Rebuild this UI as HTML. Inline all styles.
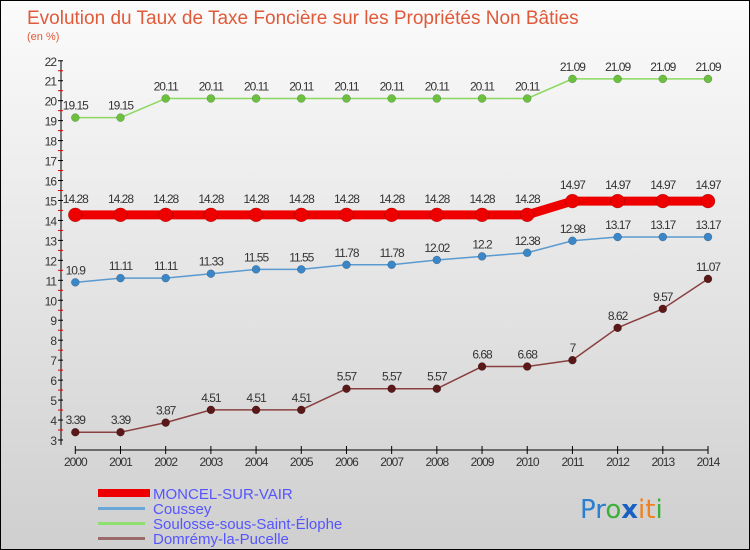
<!DOCTYPE html>
<html><head><meta charset="utf-8"><style>
body{margin:0}
#c{width:750px;height:550px;position:relative;overflow:hidden;font-family:"Liberation Sans",sans-serif;background:linear-gradient(#fbfbfb,#cfcfcf);box-sizing:border-box;border:1px solid #000}
</style></head><body>
<div id="c">
<svg id="s" width="750" height="550" style="position:absolute;left:-1px;top:-1px">
<text x="27" y="24" font-size="19" fill="#e05a3a">Evolution du Taux de Taxe Foncière sur les Propriétés Non Bâties</text>
<text x="27" y="40" font-size="11" fill="#e05a3a">(en %)</text>
<g id="ax"></g><g id="ser"></g>
<g>
<rect x="98" y="489" width="52" height="8" fill="#ee0000"/>
<text x="153" y="499" font-size="15" fill="#5555ff">MONCEL-SUR-VAIR</text>
<rect x="98" y="507" width="47" height="3" fill="#6aa6d6"/>
<text x="153" y="514" font-size="15" fill="#5555ff">Coussey</text>
<rect x="98" y="522" width="47" height="3" fill="#90e070"/>
<text x="153" y="529" font-size="15" fill="#5555ff">Soulosse-sous-Saint-Élophe</text>
<rect x="98" y="537" width="47" height="3" fill="#9a6a6a"/>
<text x="153" y="544" font-size="15" fill="#5555ff">Domrémy-la-Pucelle</text>
</g>
<text x="580" y="518" font-size="26" font-family="DejaVu Sans"><tspan fill="#2a7fd0">Pr</tspan><tspan fill="#3ab03a">o</tspan><tspan fill="#1a60c0" font-weight="bold">x</tspan><tspan fill="#f08020">it</tspan><tspan fill="#3ab03a">i</tspan></text>
</svg>
</div>
<script>
const years=[2000,2001,2002,2003,2004,2005,2006,2007,2008,2009,2010,2011,2012,2013,2014];
const moncel=[14.28,14.28,14.28,14.28,14.28,14.28,14.28,14.28,14.28,14.28,14.28,14.97,14.97,14.97,14.97];
const coussey=[10.9,11.11,11.11,11.33,11.55,11.55,11.78,11.78,12.02,12.2,12.38,12.98,13.17,13.17,13.17];
const soulosse=[19.15,19.15,20.11,20.11,20.11,20.11,20.11,20.11,20.11,20.11,20.11,21.09,21.09,21.09,21.09];
const domremy=[3.39,3.39,3.87,4.51,4.51,4.51,5.57,5.57,5.57,6.68,6.68,7,8.62,9.57,11.07];
const yTicks=[3,4,5,6,7,8,9,10,11,12,13,14,15,16,17,18,19,20,21,22];
const NS="http://www.w3.org/2000/svg";
const X=i=>75.3+i*(708-75.3)/14;
const Y=v=>440-(v-3)*19.96;
function mk(t,a,p){const e=document.createElementNS(NS,t);for(const k in a)e.setAttribute(k,a[k]);p.appendChild(e);return e;}
const ax=document.getElementById('ax');
const yl=mk('line',{x1:61,y1:Y(22),x2:61,y2:445,stroke:'#000'},ax);


yTicks.forEach(v=>{
 mk('line',{x1:58,x2:63,y1:Y(v),y2:Y(v),stroke:'#000'},ax);
 if(v<22) mk('line',{x1:58,x2:63,y1:Y(v+0.5),y2:Y(v+0.5),stroke:'#e00'},ax);
 const t=mk('text',{x:56,y:Y(v)+5,'font-size':12,'text-anchor':'end',fill:'#333','letter-spacing':'-1'},ax);
 t.textContent=v;
 
 
});
const xl=mk('line',{x1:X(0),y1:450,x2:X(14),y2:450,stroke:'#000'},ax);


years.forEach((y,i)=>{
 mk('line',{x1:X(i),x2:X(i),y1:446,y2:454,stroke:'#000'},ax);
 const t=mk('text',{x:X(i),y:466,'font-size':12,'text-anchor':'middle',fill:'#333','letter-spacing':'-1'},ax);
 t.textContent=y;
 
 
});
const ser=document.getElementById('ser');
function series(d,name,col,dot,w,r,lo){
 const g=mk('g',{},ser);
 
 
 const p=mk('polyline',{points:d.map((v,i)=>X(i)+','+Y(v)).join(' '),fill:'none',stroke:col,'stroke-width':w},g);
 
 
 d.forEach((v,i)=>{
  const c=mk('circle',{cx:X(i),cy:Y(v),r:r,fill:dot,stroke:'rgba(0,0,0,0.3)','stroke-width':0.5},g);
  
  
  const t=mk('text',{x:X(i),y:Y(v)-lo,'font-size':12,'text-anchor':'middle',fill:'#333','letter-spacing':'-1'},g);
  t.textContent=v;
  
  
 });
}
series(soulosse,'soulosse','#8ad860','#6cc040',1.5,4,8);
series(coussey,'coussey','#5a9ad0','#3a86c6',1.5,4,8);
series(domremy,'domremy','#8a4040','#5a1818',1.5,4,8);
series(moncel,'moncel','#ee0000','#ee0000',9,7,12);
</script>
</body></html>
